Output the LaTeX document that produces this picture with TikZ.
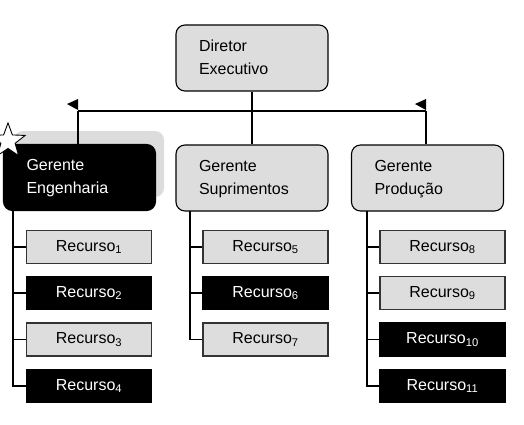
\documentclass[tikz,border=0pt]{standalone}
\usepackage{fontspec}
\setmainfont{Liberation Sans}
\usetikzlibrary{shapes.geometric}
\definecolor{boxgray}{HTML}{DDDDDD}
\definecolor{shadowgray}{HTML}{DCDCDC}
\tikzset{
  mgr/.style={draw=black, line width=1.1pt, rounded corners=9pt, fill=boxgray,
    minimum width=152pt, minimum height=66pt, text width=106pt, align=left,
    inner xsep=23pt, font=\fontsize{16}{23}\selectfont},
  mgrdark/.style={mgr, fill=black, text=white},
  res/.style={draw=black!80, line width=1.1pt, fill=boxgray, minimum width=125pt,
    minimum height=33pt, inner sep=0pt, font=\fontsize{16}{19}\selectfont},
  resdark/.style={res, fill=black, draw=black, text=white},
  conn/.style={line width=1.1pt, draw=black},
}
\newcommand{\rc}[1]{Recurso\textsubscript{#1}}
\newcommand{\twol}[2]{\raisebox{2.5pt}{\begin{tabular}{@{}l@{}}#1\\#2\end{tabular}}}
\begin{document}
\begin{tikzpicture}[x=1pt, y=-1pt]
\useasboundingbox (0,0) rectangle (524,425);
% shadow of highlighted manager
\node[fill=shadowgray, rounded corners=9pt, minimum width=150pt, minimum height=66pt] (shadow) at (89,164) {};
% top
\node[mgr] (dir) at (252,58) {\twol{Diretor}{Executivo}};
\node[mgrdark] (eng) at (79.5,177.5) {\twol{Gerente}{Engenharia}};
\node[mgr] (sup) at (252,178) {\twol{Gerente}{Suprimentos}};
\node[mgr] (prod) at (427.5,178) {\twol{Gerente}{Produção}};
% star
\node[star, star points=5, star point ratio=2.4, draw=black, fill=white, line width=0.9pt,
  minimum size=36pt, inner sep=0pt] (st) at (8,141) {};
% connectors top
\coordinate (jl) at (78,111);
\coordinate (jr) at (426,111);
\draw[conn] (dir.south) -- (sup.north);
\draw[conn] (jl) -- (jr);
\draw[conn] (jl) -- (jl |- eng.north);
\draw[conn] (jr) -- (jr |- prod.north);
\fill[black] (jl) ++(-11,-7) -- ++(11,-5) -- ++(0,11) -- cycle;
\fill[black] (jr) ++(-11,-7) -- ++(11,-5) -- ++(0,11) -- cycle;
% resources column 1
\node[res] (r1) at (89,247) {\rc{1}};
\node[resdark] (r2) at (89,293) {\rc{2}};
\node[res] (r3) at (89,339.5) {\rc{3}};
\node[resdark] (r4) at (89,386) {\rc{4}};
% column 2
\node[res] (r5) at (265.5,247) {\rc{5}};
\node[resdark] (r6) at (265.5,293) {\rc{6}};
\node[res] (r7) at (265.5,339.5) {\rc{7}};
% column 3
\node[res] (r8) at (442.5,247) {\rc{8}};
\node[res] (r9) at (442.5,293) {\rc{9}};
\node[resdark] (r10) at (442.5,339.5) {\rc{10}};
\node[resdark] (r11) at (442.5,386) {\rc{11}};
% trunks
\coordinate (t1) at (13,211);
\coordinate (t2) at (190,211);
\coordinate (t3) at (367,211);
\draw[conn] (t1) |- (r4.west);
\foreach \r in {r1,r2,r3} \draw[conn] (t1 |- \r.west) -- (\r.west);
\draw[conn] (t2) |- (r7.west);
\foreach \r in {r5,r6} \draw[conn] (t2 |- \r.west) -- (\r.west);
\draw[conn] (t3) |- (r11.west);
\foreach \r in {r8,r9,r10} \draw[conn] (t3 |- \r.west) -- (\r.west);
\end{tikzpicture}
\end{document}
